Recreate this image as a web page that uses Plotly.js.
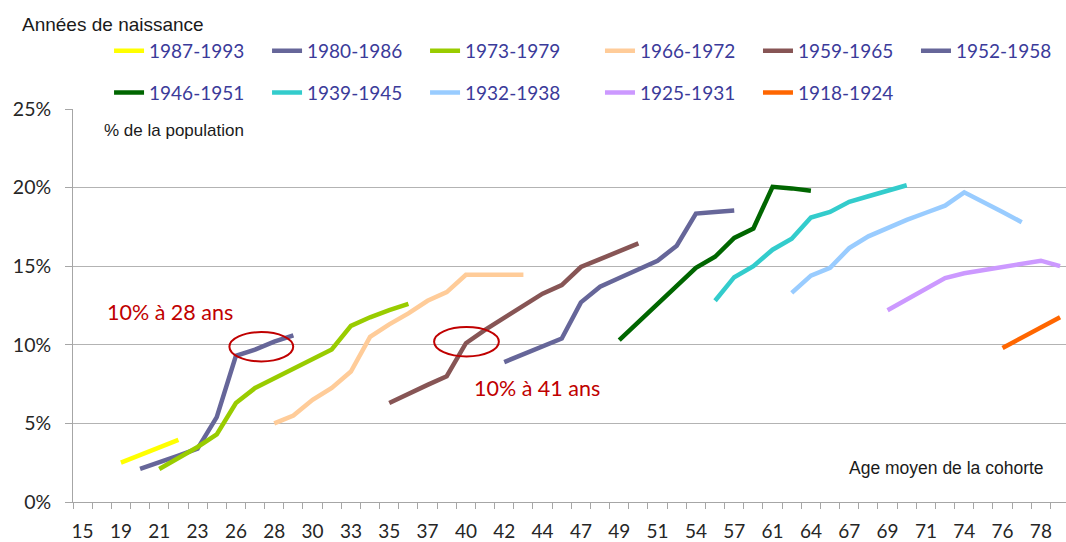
<!DOCTYPE html>
<html><head><meta charset="utf-8">
<script src="https://cdn.plot.ly/plotly-3.0.1.min.js"></script>
<style>html,body{margin:0;padding:0;background:#fff}#chart{width:1066px;height:542px}</style>
</head><body><div id="chart"></div><script>
// ---- data ----
const nCategories = 52;                 // survey points on the category axis
const tickLabels = ['15','19','21','23','26','28','30','33','35','37','40','42','44','47','49','51','54','57','61','64','67','69','71','74','76','78']; // shown on every 2nd category
const cohorts = ['1987-1993','1980-1986','1973-1979','1966-1972','1959-1965','1952-1958','1946-1951','1939-1945','1932-1938','1925-1931','1918-1924'];
const firstCategory = [2, 3, 4, 10, 16, 22, 28, 33, 37, 42, 48];
const v1987_1993 = [2.5, 3.0, 3.5, 3.95];
const v1980_1986 = [2.1, 2.5, 2.95, 3.4, 5.4, 9.3, 9.7, 10.2, 10.6];
const v1973_1979 = [2.1, 2.8, 3.5, 4.3, 6.3, 7.25, 7.85, 8.45, 9.05, 9.7, 11.2, 11.75, 12.2, 12.6];
const v1966_1972 = [5.0, 5.5, 6.5, 7.25, 8.3, 10.5, 11.3, 12.0, 12.8, 13.35, 14.45, 14.45, 14.45, 14.45];
const v1959_1965 = [6.3, 6.9, 7.45, 8.0, 10.1, 10.95, 11.7, 12.5, 13.25, 13.8, 14.95, 15.45, 15.95, 16.45];
const v1952_1958 = [8.9, 9.4, 9.9, 10.4, 12.7, 13.7, 14.25, 14.8, 15.35, 16.3, 18.35, 18.45, 18.55];
const v1946_1951 = [10.3, 11.45, 12.6, 13.7, 14.9, 15.6, 16.8, 17.4, 20.05, 19.95, 19.8];
const v1939_1945 = [12.8, 14.3, 15.0, 16.05, 16.75, 18.1, 18.45, 19.1, 19.45, 19.8, 20.15];
const v1932_1938 = [13.3, 14.4, 14.9, 16.15, 16.9, 17.45, 17.95, 18.4, 18.85, 19.7, 19.1, 18.45, 17.8];
const v1925_1931 = [12.2, 12.9, 13.6, 14.25, 14.55, 14.75, 14.95, 15.15, 15.35, 15.0];
const v1918_1924 = [9.8, 10.45, 11.1, 11.75];
const values = [v1987_1993, v1980_1986, v1973_1979, v1966_1972, v1959_1965, v1952_1958, v1946_1951, v1939_1945, v1932_1938, v1925_1931, v1918_1924];

// ---- style ----
const colors = ['#ffff00','#666699','#99cc00','#ffcc99','#875555','#666699','#006600','#33cccc','#99ccff','#cc99ff','#ff6600'];
const legendOf = ['legend','legend','legend','legend3','legend3','legend3','legend2','legend2','legend2','legend4','legend4'];
const TXT = 'Lato, "Open Sans", sans-serif';
const ARIAL = '"Liberation Sans", Arial, sans-serif';

const traces = cohorts.map((name, i) => ({
  type: 'scatter', mode: 'lines', name: name,
  x: values[i].map((_, j) => firstCategory[i] + j),
  y: values[i],
  line: {color: colors[i], width: 4.5},
  legend: legendOf[i],
  hovertemplate: name + ': %{y:.1f}%<extra></extra>'
}));

const tickVals = tickLabels.map((_, k) => 2 * k);
const legendCommon = {
  orientation: 'h', xanchor: 'left', yanchor: 'middle',
  entrywidth: 113, entrywidthmode: 'pixels',
  font: {family: TXT, size: 19, color: '#3b3b9a'},
  bgcolor: 'rgba(0,0,0,0)', borderwidth: 0, traceorder: 'normal'
};

const layout = {
  width: 1066, height: 542,
  margin: {l: 73, r: 0, t: 109, b: 40, autoexpand: false},
  paper_bgcolor: '#fff', plot_bgcolor: '#fff',
  showlegend: true,
  legend:  Object.assign({x: 0.0363, y: 1.148}, legendCommon),
  legend3: Object.assign({x: 0.5307, y: 1.148}, legendCommon),
  legend2: Object.assign({x: 0.0363, y: 1.0415}, legendCommon),
  legend4: Object.assign({x: 0.5307, y: 1.0415}, legendCommon),
  xaxis: {
    range: [-0.5, 51.31], showgrid: false, zeroline: false,
    showline: true, linecolor: '#a6a6a6', linewidth: 1,
    tickmode: 'array', tickvals: tickVals, ticktext: tickLabels,
    ticks: '', ticklabelstandoff: 12,
    tickfont: {family: TXT, size: 19, color: '#262626'},
    minor: {tickmode: 'linear', tick0: -0.5, dtick: 1, ticks: 'outside', ticklen: 6, tickcolor: '#a6a6a6', showgrid: false}
  },
  yaxis: {
    range: [0, 25], tickmode: 'linear', tick0: 0, dtick: 5, ticksuffix: '%',
    showgrid: true, gridcolor: '#b3b3b3', gridwidth: 1, zeroline: false,
    showline: true, linecolor: '#a6a6a6', linewidth: 1,
    ticks: 'outside', ticklen: 7, tickcolor: '#a6a6a6', ticklabelstandoff: 10,
    tickfont: {family: TXT, size: 19.5, color: '#262626'}
  },
  annotations: [
    {text: 'Années de naissance', xref: 'paper', yref: 'paper', x: -0.0531, y: 1.214, xanchor: 'left', yanchor: 'middle', showarrow: false, font: {family: ARIAL, size: 19, color: '#1a1a1a'}},
    {text: '% de la population', xref: 'paper', yref: 'paper', x: 0.0297, y: 0.945, xanchor: 'left', yanchor: 'middle', showarrow: false, font: {family: ARIAL, size: 17, color: '#1a1a1a'}},
    {text: 'Age moyen de la cohorte', xref: 'paper', yref: 'paper', x: 0.98, y: 0.0873, xanchor: 'right', yanchor: 'middle', showarrow: false, font: {family: ARIAL, size: 17.5, color: '#1a1a1a'}},
    {text: '10% à 28 ans', xref: 'paper', yref: 'paper', x: 0.0979, y: 0.4842, xanchor: 'center', yanchor: 'middle', showarrow: false, font: {family: TXT, size: 21.5, color: '#c00000'}},
    {text: '10% à 41 ans', xref: 'paper', yref: 'paper', x: 0.4674, y: 0.2908, xanchor: 'center', yanchor: 'middle', showarrow: false, font: {family: TXT, size: 21.5, color: '#c00000'}}
  ],
  shapes: [
    {type: 'circle', xref: 'x', yref: 'y', x0: 7.66, x1: 10.99, y0: 8.94, y1: 10.81, line: {color: '#c00000', width: 2}, fillcolor: 'rgba(0,0,0,0)'},
    {type: 'circle', xref: 'x', yref: 'y', x0: 18.34, x1: 21.72, y0: 9.26, y1: 11.13, line: {color: '#c00000', width: 2}, fillcolor: 'rgba(0,0,0,0)'}
  ]
};

Plotly.newPlot('chart', traces, layout, {displayModeBar: false, responsive: false});
</script></body></html>
